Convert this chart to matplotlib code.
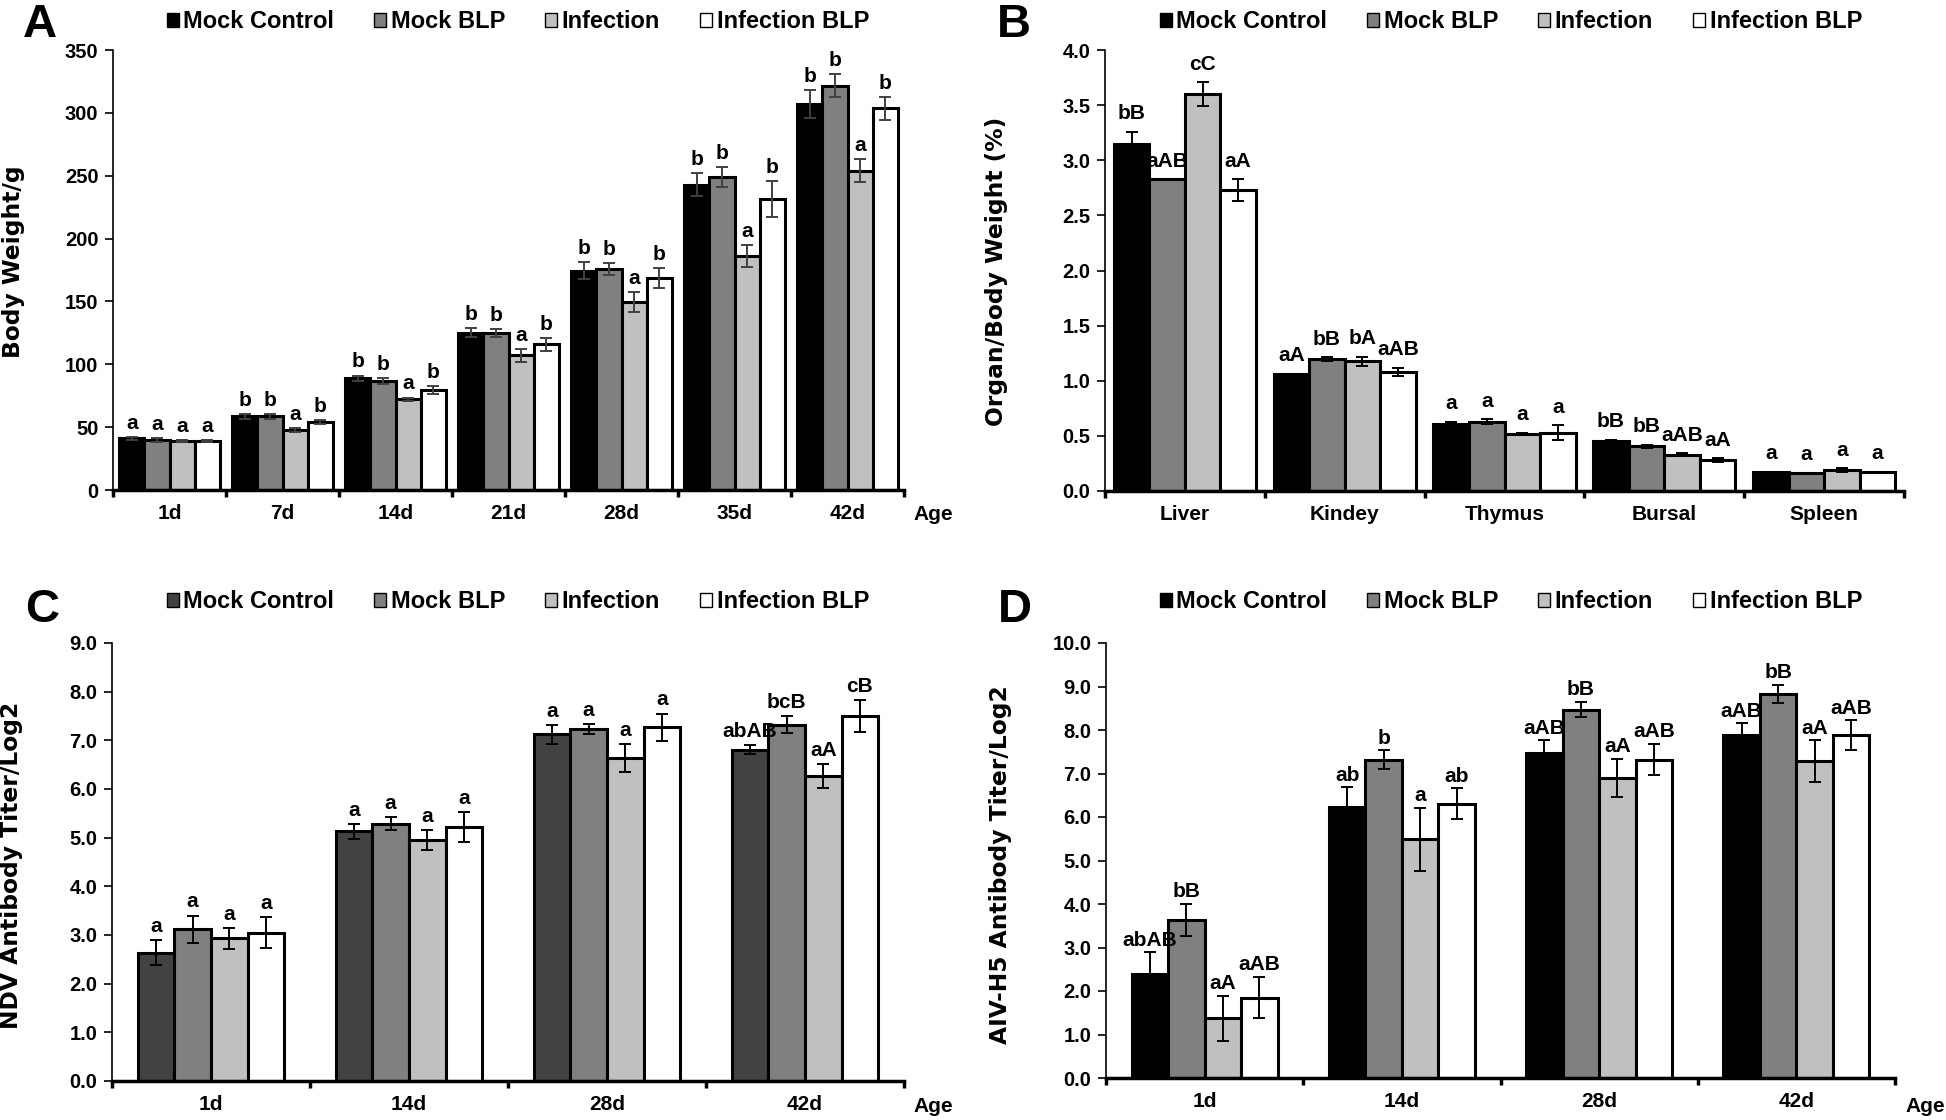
import matplotlib.pyplot as plt
import numpy as np
from matplotlib.patches import Patch

plt.rcParams['font.family'] = ['Liberation Sans', 'DejaVu Sans']
plt.rcParams['font.weight'] = 'bold'

series = ['Mock Control', 'Mock BLP', 'Infection', 'Infection BLP']

# A: body weight (g)
ages_a = ['1d', '7d', '14d', '21d', '28d', '35d', '42d']
bw_means = [[41, 58.7, 89, 125, 174.5, 243, 307],
            [39.5, 58.7, 86.7, 125, 175.8, 249, 321.7],
            [39, 48, 72, 107, 149.4, 186, 254],
            [39, 53.8, 79.4, 115.8, 168.5, 231.5, 303.7]]
bw_errs = [[1, 2, 2, 3.5, 7, 9, 11],
           [1.5, 2, 2, 3, 5, 8, 9],
           [1, 1.5, 1.5, 5, 8, 9, 9],
           [0.5, 1.5, 3, 5, 8, 14, 9]]
bw_letters = [['a', 'b', 'b', 'b', 'b', 'b', 'b'],
              ['a', 'b', 'b', 'b', 'b', 'b', 'b'],
              ['a', 'a', 'a', 'a', 'a', 'a', 'a'],
              ['a', 'b', 'b', 'b', 'b', 'b', 'b']]

# B: organ / body weight (%)
organs = ['Liver', 'Kindey', 'Thymus', 'Bursal', 'Spleen']
org_means = [[3.15, 1.065, 0.61, 0.45, 0.175],
             [2.83, 1.196, 0.63, 0.405, 0.165],
             [3.60, 1.178, 0.52, 0.33, 0.19],
             [2.73, 1.08, 0.53, 0.28, 0.175]]
org_errs = [[0.11, 0, 0.02, 0.015, 0],
            [0, 0.02, 0.02, 0.015, 0],
            [0.11, 0.04, 0.01, 0.015, 0.02],
            [0.1, 0.04, 0.07, 0.015, 0]]
org_letters = [['bB', 'aA', 'a', 'bB', 'a'],
               ['aAB', 'bB', 'a', 'bB', 'a'],
               ['cC', 'bA', 'a', 'aAB', 'a'],
               ['aA', 'aAB', 'a', 'aA', 'a']]

# C: NDV antibody titer (log2)
ages_cd = ['1d', '14d', '28d', '42d']
ndv_means = [[2.64, 5.13, 7.12, 6.81],
             [3.12, 5.29, 7.23, 7.32],
             [2.93, 4.95, 6.63, 6.27],
             [3.05, 5.22, 7.27, 7.50]]
ndv_errs = [[0.26, 0.15, 0.2, 0.1],
            [0.28, 0.14, 0.1, 0.17],
            [0.22, 0.2, 0.29, 0.24],
            [0.32, 0.3, 0.28, 0.32]]
ndv_letters = [['a', 'a', 'a', 'abAB'],
               ['a', 'a', 'a', 'bcB'],
               ['a', 'a', 'a', 'aA'],
               ['a', 'a', 'a', 'cB']]

# D: AIV-H5 antibody titer (log2)
aiv_means = [[2.39, 6.23, 7.48, 7.88],
             [3.63, 7.32, 8.47, 8.83],
             [1.37, 5.49, 6.90, 7.28],
             [1.85, 6.31, 7.32, 7.88]]
aiv_errs = [[0.5, 0.45, 0.28, 0.27],
            [0.37, 0.21, 0.18, 0.2],
            [0.52, 0.72, 0.43, 0.48],
            [0.48, 0.35, 0.36, 0.34]]
aiv_letters = [['abAB', 'ab', 'aAB', 'aAB'],
               ['bB', 'b', 'bB', 'bB'],
               ['aA', 'a', 'aA', 'aA'],
               ['aAB', 'ab', 'aAB', 'aAB']]

colors = ['black', '#808080', '#c0c0c0', 'white']
colors_c = ['#424242', '#808080', '#c0c0c0', 'white']

fig = plt.figure(figsize=(19.46, 11.2), dpi=100)
W, H = 1946, 1120


def px_axes(x0, x1, y0, y1):
    return fig.add_axes([x0 / W, 1 - y1 / H, (x1 - x0) / W, (y1 - y0) / H])


def draw_panel(ax, cats, means, errs, letters, cols, total_w, ymax, step, fmt,
               err_color, lab_off):
    n = len(cats)
    x = np.arange(n)
    w = total_w / 4
    for i in range(4):
        xs = x + (i - 1.5) * w
        ax.bar(xs, means[i], w, color=cols[i], edgecolor='black', linewidth=2.2,
               zorder=2)
        e = np.array(errs[i], dtype=float)
        m = np.array(means[i], dtype=float)
        keep = e > 0
        ax.errorbar(xs[keep], m[keep], yerr=e[keep], fmt='none', ecolor=err_color,
                    elinewidth=1.4, capsize=4, capthick=1.4, zorder=3)
        for xx, mm, ee, lab in zip(xs, m, e, letters[i]):
            ax.annotate(lab, (xx, mm + ee), xytext=(0, lab_off),
                        textcoords='offset points', ha='center', va='bottom',
                        fontsize=15, fontweight='bold')
    ax.set_xlim(-0.5, n - 0.5)
    ax.set_ylim(0, ymax)
    yt = np.arange(0, ymax + step / 2, step)
    ax.set_yticks(yt)
    ax.set_yticklabels([fmt.format(v) for v in yt])
    ax.set_xticks(np.arange(n + 1) - 0.5)
    ax.set_xticklabels([])
    ax.set_xticks(x, minor=True)
    ax.set_xticklabels(cats, minor=True)
    ax.tick_params(axis='x', which='major', length=5, width=2.5, direction='out')
    ax.tick_params(axis='x', which='minor', length=0, pad=10, labelsize=15)
    ax.tick_params(axis='y', length=5.5, width=1.2, pad=5, labelsize=14.5)
    for s in ['top', 'right']:
        ax.spines[s].set_visible(False)
    ax.spines['bottom'].set_linewidth(2.5)
    ax.spines['left'].set_linewidth(1.2)
    hs = [Patch(facecolor=c, edgecolor='black', linewidth=1) for c in cols]
    return hs


def add_legend(ax, hs, cx, cy):
    ax.legend(hs, series, ncol=4, loc='center', bbox_to_anchor=(cx / W, 1 - cy / H),
              bbox_transform=fig.transFigure, frameon=False,
              prop={'weight': 'bold', 'size': 17}, handlelength=0.5,
              handleheight=0.5, handletextpad=0.2, columnspacing=1.7,
              borderaxespad=0, borderpad=0)


ax_a = px_axes(113, 904, 50, 490)
h = draw_panel(ax_a, ages_a, bw_means, bw_errs, bw_letters, colors, 0.89, 350, 50,
               '{:.0f}', '#404040', 3)
add_legend(ax_a, h, 518, 22)

ax_b = px_axes(1105, 1904, 50, 491)
h = draw_panel(ax_b, organs, org_means, org_errs, org_letters, colors, 0.89, 4.0, 0.5,
               '{:.1f}', 'black', 6)
add_legend(ax_b, h, 1511, 22)

ax_c = px_axes(112, 904, 643, 1081)
h = draw_panel(ax_c, ages_cd, ndv_means, ndv_errs, ndv_letters, colors_c, 0.74, 9.0, 1.0,
               '{:.1f}', 'black', 3)
add_legend(ax_c, h, 518, 602)

ax_d = px_axes(1106, 1895, 643, 1078)
h = draw_panel(ax_d, ages_cd, aiv_means, aiv_errs, aiv_letters, colors, 0.74, 10.0, 1.0,
               '{:.1f}', 'black', 2)
add_legend(ax_d, h, 1511, 602)

# y axis titles
ylab = dict(rotation=90, ha='center', va='center', fontsize=16.8,
            fontweight='bold', family='DejaVu Sans')
fig.text(14 / W, 1 - 262 / H, 'Body Weight/g', **ylab)
fig.text(997 / W, 1 - 271 / H, 'Organ/Body Weight (%)', **ylab)
fig.text(12 / W, 1 - 865 / H, 'NDV Antibody Titer/Log2', **ylab)
fig.text(1000 / W, 1 - 865 / H, 'AIV-H5 Antibody Titer/Log2', **ylab)

# "Age" axis names
for x, y in [(913, 515), (913, 1106), (1905, 1107)]:
    fig.text(x / W, 1 - y / H, 'Age', ha='left', va='center', fontsize=15)

# panel letters
for lab, x, y in [('A', 23, 37), ('B', 997, 37), ('C', 25, 622), ('D', 998, 622)]:
    fig.text(x / W, 1 - y / H, lab, ha='left', va='baseline', fontsize=34,
             fontweight='bold')

fig.savefig('out.png', dpi=100)
